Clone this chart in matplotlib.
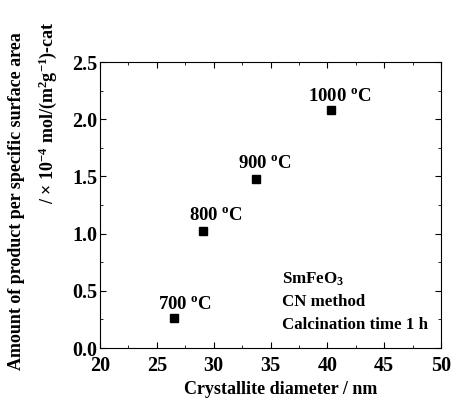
import matplotlib
matplotlib.use("Agg")
import matplotlib.pyplot as plt
from matplotlib.ticker import MultipleLocator

plt.rcParams['font.family'] = ['Liberation Serif', 'DejaVu Serif']
plt.rcParams['font.weight'] = 'bold'
plt.rcParams['mathtext.fontset'] = 'custom'
plt.rcParams['mathtext.rm'] = 'Liberation Serif:bold'
plt.rcParams['mathtext.bf'] = 'Liberation Serif:bold'
plt.rcParams['mathtext.it'] = 'Liberation Serif:bold'

# data
crystallite_nm = [26.5, 29.1, 33.7, 40.3]
amount = [0.26, 1.02, 1.48, 2.08]
temp_labels = ["700", "800", "900", "1000"]
label_offsets = [(8, 7), (9, 8), (6.5, 8), (6.5, 6.5)]

fig = plt.figure(figsize=(4.51, 3.99), dpi=100)
ax = fig.add_axes([100 / 451, 51 / 399, 341 / 451, 286 / 399])

ax.plot(crystallite_nm, amount, 's', color='black', markersize=6, linestyle='none')

for x, y, t, off in zip(crystallite_nm, amount, temp_labels, label_offsets):
    ax.annotate(t + r" $^{\mathrm{o}}$C", (x, y), xytext=off, textcoords='offset points',
                ha='center', va='baseline', fontsize=13.5, fontweight='bold')

ax.text(36.0, 0.559, r"SmFeO$_3$", fontsize=12.2, fontweight='bold', va='baseline')
ax.text(36.0, 0.367, "CN method", fontsize=12.2, fontweight='bold', va='baseline')
ax.text(36.0, 0.166, "Calcination time 1 h", fontsize=12.2, fontweight='bold', va='baseline')

ax.set_xlim(20, 50)
ax.set_ylim(0, 2.5)
ax.xaxis.set_major_locator(MultipleLocator(5))
ax.xaxis.set_minor_locator(MultipleLocator(2.5))
ax.yaxis.set_major_locator(MultipleLocator(0.5))
ax.yaxis.set_minor_locator(MultipleLocator(0.25))
ax.yaxis.set_major_formatter(lambda v, p: f"{v:.1f}")
ax.tick_params(which='both', direction='in', top=True, right=True, labelsize=14.5)
ax.tick_params(which='major', length=4)
ax.tick_params(which='minor', length=2)
ax.tick_params(axis='x', pad=6)
ax.tick_params(axis='y', pad=2)

fig.text(281 / 451, 1 - 389 / 399, "Crystallite diameter / nm",
         ha='center', va='center', fontsize=13, fontweight='bold')

# two-line y label, each line placed on its own (as in the original)
fig.text(17 / 451, 1 - 201 / 399, "Amount of product per specific surface area",
         rotation=90, ha='center', va='center', fontsize=13, fontweight='bold')
fig.text(48 / 451, 1 - 113 / 399, r"/ $\times$ 10$^{-4}$ mol/(m$^{2}$g$^{-1}$)-cat",
         rotation=90, ha='center', va='center', fontsize=13, fontweight='bold')

fig.savefig("out.png", dpi=100)
